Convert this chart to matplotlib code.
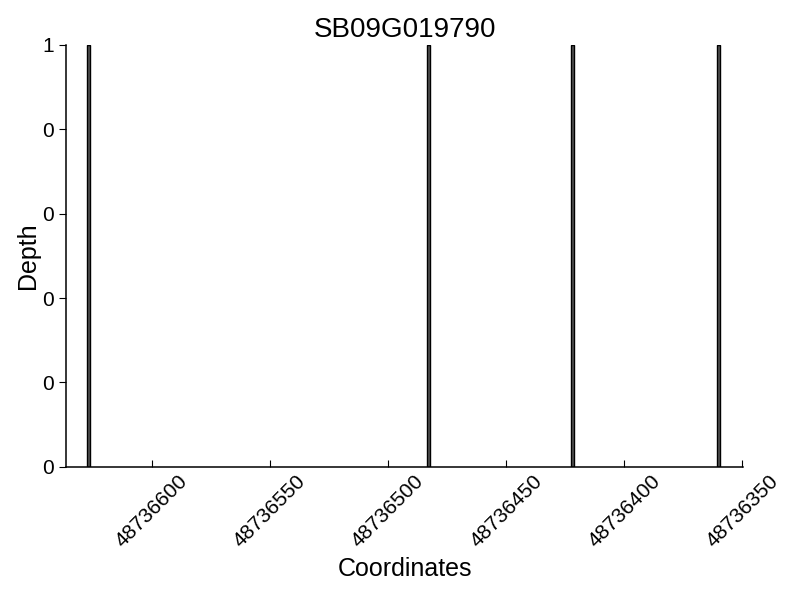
import matplotlib
matplotlib.use('Agg')
import matplotlib.pyplot as plt
from matplotlib.ticker import FormatStrFormatter

plt.rcParams['font.family'] = ['Liberation Sans', 'DejaVu Sans']

# coverage positions and depths
coords = [48736627, 48736483, 48736422, 48736360]
depth = [1, 1, 1, 1]
xticks = [48736600, 48736550, 48736500, 48736450, 48736400, 48736350]
gene = "SB09G019790"

fig = plt.figure(figsize=(8, 6), dpi=100)
ax = fig.add_axes([0.0825, 0.222, 0.8465, 0.703])

ax.bar(coords, depth, width=1.4, color='#555555', edgecolor='black', linewidth=1.0)

ax.set_xlim(48736636.4, 48736349.6)
ax.set_ylim(0, 1)
ax.set_xticks(xticks)
ax.set_xticklabels([str(t) for t in xticks], rotation=45, fontsize=15)
ax.set_yticks([0, 0.2, 0.4, 0.6, 0.8, 1.0])
ax.yaxis.set_major_formatter(FormatStrFormatter('%d'))
ax.tick_params(axis='y', labelsize=15, direction='out', length=5)
ax.tick_params(axis='x', direction='in', length=5)

ax.spines['top'].set_visible(False)
ax.spines['right'].set_visible(False)
ax.spines['left'].set_linewidth(1.1)
ax.spines['bottom'].set_linewidth(1.1)

ax.set_xlabel('Coordinates', fontsize=18)
ax.set_ylabel('Depth', fontsize=18, labelpad=2)
ax.set_title(gene, fontsize=20)

fig.savefig('out.png', dpi=100)
